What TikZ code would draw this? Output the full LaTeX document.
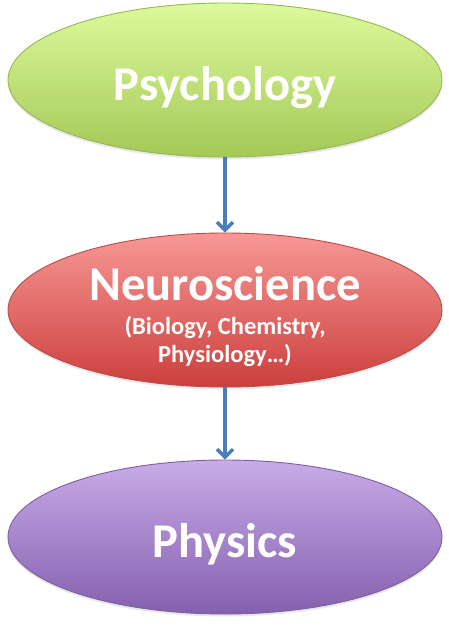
\documentclass[tikz,border=0pt]{standalone}
\usepackage{fontspec}
\setmainfont{Carlito}
\usetikzlibrary{arrows.meta,shapes.geometric,shadows}
\definecolor{gtop}{HTML}{DDFA9C}
\definecolor{gbot}{HTML}{A5C857}
\definecolor{gline}{HTML}{97B752}
\definecolor{rtop}{HTML}{F79895}
\definecolor{rbot}{HTML}{CB3F3D}
\definecolor{rline}{HTML}{B94B49}
\definecolor{ptop}{HTML}{C8ACE8}
\definecolor{pbot}{HTML}{855FAF}
\definecolor{pline}{HTML}{7C5F9F}
\definecolor{arrowblue}{HTML}{4A7EBB}
\tikzset{
  oval/.style={ellipse, minimum width=434pt, minimum height=154pt, inner sep=0pt,
    line width=0.9pt, drop shadow={shadow xshift=0pt, shadow yshift=-2.5pt, opacity=0.18}},
  bigtext/.style={text=white, font=\bfseries\fontsize{48.5}{52}\selectfont, anchor=base, inner sep=0pt},
  smalltext/.style={text=white, font=\bfseries\fontsize{24.5}{28}\selectfont, anchor=base, inner sep=0pt},
  flow/.style={draw=arrowblue, line width=3.8pt, -{Straight Barb[length=8pt,width=16pt,line width=3.4pt]}}
}
\begin{document}
\begin{tikzpicture}[x=1pt,y=1pt]
\useasboundingbox (0,0) rectangle (449,-626);
\node[oval, draw=gline, top color=gtop, bottom color=gbot] (psy) at (225,-80) {};
\node[oval, draw=rline, top color=rtop, bottom color=rbot] (neuro) at (225,-310) {};
\node[oval, draw=pline, top color=ptop, bottom color=pbot] (phys) at (225,-537) {};
\node[bigtext] (tpsy) at (225,-100) {Psychology};
\node[bigtext] (tneuro) at (225,-300) {Neuroscience};
\node[smalltext] (tsub1) at (225,-334) {(Biology, Chemistry,};
\node[smalltext] (tsub2) at (225,-362) {Physiology…)};
\node[bigtext] (tphys) at (225,-557) {Physics};
\draw[flow] (psy.south) -- (neuro.north);
\draw[flow] (neuro.south) -- (phys.north);
\end{tikzpicture}
\end{document}
